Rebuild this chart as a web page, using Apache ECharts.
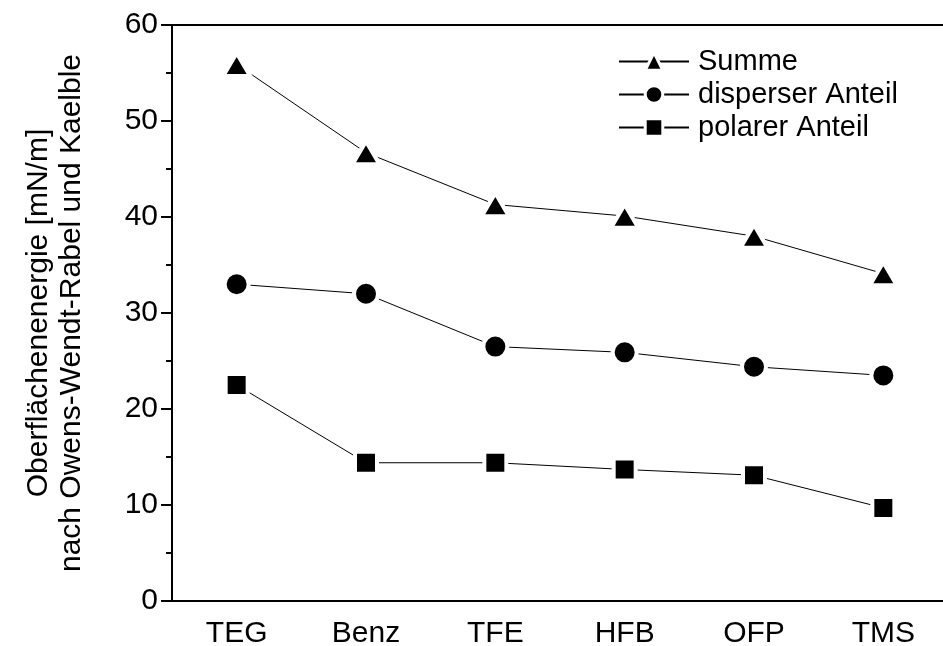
<!DOCTYPE html>
<html>
<head>
<meta charset="utf-8">
<script src="https://cdn.jsdelivr.net/npm/echarts@6/dist/echarts.min.js"></script>
<style>
  html, body { margin: 0; padding: 0; background: #fff; }
  #chart { width: 943px; height: 646px; }
</style>
</head>
<body>
<div id="chart"></div>
<script>
// Surface energy components per treatment (mN/m)
const categories = ['TEG', 'Benz', 'TFE', 'HFB', 'OFP', 'TMS'];
const summe = [55.9, 46.7, 41.3, 40.1, 38.0, 34.1];
const disperser = [33.0, 32.0, 26.5, 25.9, 24.4, 23.5];
const polarer = [22.5, 14.4, 14.4, 13.7, 13.1, 9.7];
const seriesNames = ['Summe', 'disperser Anteil', 'polarer Anteil'];
const yAxisTitle = 'Oberflächenenergie [mN/m]\nnach Owens-Wendt-Rabel und Kaelble';

const FONT = '"Liberation Sans", Arial, sans-serif';

function lineSeries(name, data, symbol, size) {
  return {
    name: name,
    type: 'line',
    data: data,
    symbol: symbol,
    symbolSize: size,
    showSymbol: true,
    lineStyle: { color: '#000', width: 1 },
    itemStyle: { color: '#000', borderColor: '#fff', borderWidth: 4 },
    emphasis: { disabled: true },
    z: 3
  };
}

const chart = echarts.init(document.getElementById('chart'), null, { renderer: 'canvas' });
chart.setOption({
  animation: false,
  backgroundColor: '#fff',
  grid: {
    left: 172, top: 25, width: 776, height: 576,
    outerBoundsMode: 'none',
    containLabel: false,
    show: true, borderColor: '#000', borderWidth: 2, backgroundColor: 'transparent'
  },
  legend: {
    orient: 'vertical',
    left: 613, top: 42,
    itemWidth: 70, itemHeight: 22, itemGap: 4,
    itemStyle: { borderColor: '#fff', borderWidth: 3 },
    textStyle: { fontFamily: FONT, fontSize: 29, color: '#000', padding: [0, 0, 0, 4] },
    data: seriesNames
  },
  xAxis: {
    type: 'category',
    data: categories,
    boundaryGap: true,
    axisLine: { lineStyle: { color: '#000', width: 2 } },
    axisTick: { alignWithLabel: true, length: 12, lineStyle: { color: '#000', width: 2 } },
    axisLabel: { fontFamily: FONT, fontSize: 30, color: '#000', margin: 18 },
    splitLine: { show: false }
  },
  yAxis: {
    type: 'value',
    min: 0, max: 60, interval: 10,
    name: yAxisTitle,
    nameLocation: 'middle',
    nameRotate: 90,
    nameGap: 84,
    nameTextStyle: { fontFamily: FONT, fontSize: 30, color: '#000', lineHeight: 33 },
    axisLine: { show: true, lineStyle: { color: '#000', width: 2 } },
    axisTick: { show: true, length: 11, lineStyle: { color: '#000', width: 2 } },
    minorTick: { show: true, splitNumber: 2, length: 6, lineStyle: { color: '#000', width: 2 } },
    axisLabel: { fontFamily: FONT, fontSize: 30, color: '#000', margin: 14 },
    splitLine: { show: false }
  },
  series: [
    lineSeries(seriesNames[0], summe, 'triangle', [27, 23]),
    lineSeries(seriesNames[1], disperser, 'circle', 24),
    lineSeries(seriesNames[2], polarer, 'rect', 22)
  ]
});
</script>
</body>
</html>
